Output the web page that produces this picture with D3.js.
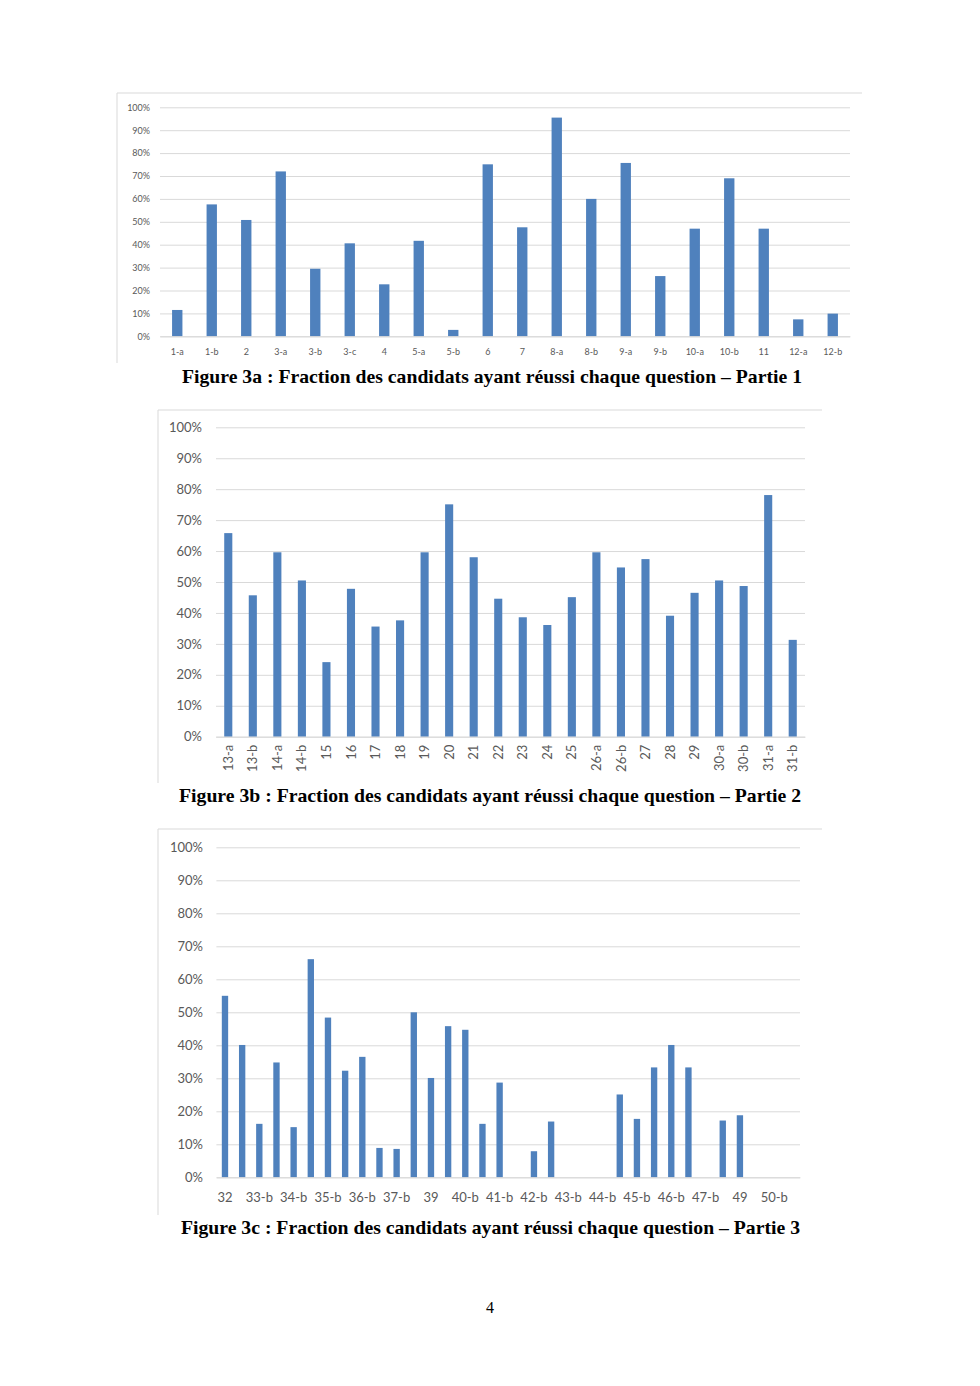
<!DOCTYPE html>
<html><head><meta charset="utf-8">
<script src="https://cdn.jsdelivr.net/npm/d3@7/dist/d3.min.js"></script>
<style>
html,body{margin:0;padding:0;background:#fff;}
svg{display:block;}
</style></head>
<body>
<svg id="page" width="980" height="1386"></svg>
<script>
// ---------- DATA ----------
const yTicks = [0, 0.1, 0.2, 0.3, 0.4, 0.5, 0.6, 0.7, 0.8, 0.9, 1.0];

const cats1 = ["1-a","1-b","2","3-a","3-b","3-c","4","5-a","5-b","6","7","8-a","8-b","9-a","9-b","10-a","10-b","11","12-a","12-b"];
const vals1 = [0.115,0.576,0.508,0.720,0.295,0.406,0.227,0.417,0.028,0.751,0.476,0.955,0.600,0.757,0.263,0.470,0.690,0.470,0.074,0.099];

const cats2 = ["13-a","13-b","14-a","14-b","15","16","17","18","19","20","21","22","23","24","25","26-a","26-b","27","28","29","30-a","30-b","31-a","31-b"];
const vals2 = [0.658,0.457,0.596,0.505,0.241,0.478,0.356,0.376,0.596,0.751,0.580,0.446,0.386,0.361,0.451,0.596,0.547,0.574,0.391,0.465,0.505,0.487,0.781,0.313];

const cats3 = ["32","33-a","33-b","34-a","34-b","35-a","35-b","36-a","36-b","37-a","37-b","38","39","40-a","40-b","41-a","41-b","42-a","42-b","43-a","43-b","44-a","44-b","45-a","45-b","46-a","46-b","47-a","47-b","48","49","50-a","50-b","51"];
const vals3 = [0.550,0.401,0.162,0.348,0.152,0.661,0.484,0.323,0.365,0.089,0.086,0.500,0.301,0.458,0.447,0.162,0.287,0,0.079,0.169,0,0,0,0.251,0.177,0.333,0.401,0.333,0,0.172,0.188,0,0,0];

const captions = [
  "Figure 3a : Fraction des candidats ayant réussi chaque question – Partie 1",
  "Figure 3b : Fraction des candidats ayant réussi chaque question – Partie 2",
  "Figure 3c : Fraction des candidats ayant réussi chaque question – Partie 3"
];
const pageNumber = "4";

// ---------- DRAW ----------
const svg = d3.select("#page");
const BAR = "#4f81bd", GRID = "#d9d9d9", TXT = "#595959", FRAME = "#d9d9d9";
const fmt = d3.format(".0%");

function drawChart(cfg) {
  const g = svg.append("g");
  g.append("line").attr("x1", cfg.frame[0]).attr("x2", cfg.frame[2]).attr("y1", cfg.frame[1]).attr("y2", cfg.frame[1])
    .attr("stroke", FRAME).attr("stroke-width", 1);
  g.append("line").attr("x1", cfg.frame[0]).attr("x2", cfg.frame[0]).attr("y1", cfg.frame[1]).attr("y2", cfg.frame[3])
    .attr("stroke", FRAME).attr("stroke-width", 1);

  const x = d3.scaleBand().domain(cfg.cats).range([cfg.x0, cfg.x1]).paddingInner(cfg.pad).paddingOuter(cfg.pad / 2);
  const y = d3.scaleLinear().domain([0, 1]).range([cfg.yb, cfg.yt]);

  const yAxis = d3.axisLeft(y).tickValues(yTicks).tickFormat(fmt)
    .tickSize(-(cfg.x1 - cfg.x0)).tickPadding(cfg.x0 - cfg.ylabX);
  const ga = g.append("g").attr("transform", `translate(${cfg.x0},0)`).call(yAxis);
  ga.select(".domain").remove();
  ga.selectAll(".tick line").attr("stroke", GRID).attr("stroke-width", 1);
  ga.selectAll(".tick text").attr("fill", TXT).style("font-family", cfg.font).style("font-size", cfg.yfs + "px");

  g.selectAll("rect.bar").data(cfg.cats.map((c, i) => ({c, v: cfg.vals[i]})).filter(d => d.v > 0))
    .enter().append("rect").attr("class", "bar")
    .attr("x", d => x(d.c)).attr("width", x.bandwidth())
    .attr("y", d => y(d.v)).attr("height", d => y(0) - y(d.v))
    .attr("fill", BAR);

  const xAxis = d3.axisBottom(x).tickSize(0).tickPadding(cfg.xpad)
    .tickFormat((d, i) => (cfg.every && i % cfg.every !== 0) ? "" : d);
  const gx = g.append("g").attr("transform", `translate(0,${cfg.yb})`).call(xAxis);
  gx.select(".domain").attr("stroke", GRID);
  gx.selectAll(".tick text").attr("fill", TXT).style("font-family", cfg.font).style("font-size", cfg.xfs + "px");
  if (cfg.rotate) {
    gx.selectAll(".tick text").attr("transform", "rotate(-90)")
      .attr("text-anchor", "end").attr("x", -cfg.xpad).attr("y", 0).attr("dy", "0.35em");
  }

  svg.append("text").attr("x", cfg.capX).attr("y", cfg.capY).attr("text-anchor", "middle")
    .style("font-family", "'Liberation Serif','Times New Roman',serif").style("font-weight", "bold")
    .style("font-size", "19px").attr("fill", "#000")
    .attr("textLength", cfg.capW).attr("lengthAdjust", "spacingAndGlyphs").text(cfg.caption);
}

drawChart({cats: cats1, vals: vals1, frame: [117, 93, 862, 363], x0: 160, x1: 850, yb: 336.3, yt: 107.3,
  pad: 0.7, ylabX: 150, yfs: 9, xfs: 9, xpad: 12, font: "Lato, 'Open Sans', sans-serif", caption: captions[0], capX: 492, capY: 383, capW: 620});
drawChart({cats: cats2, vals: vals2, frame: [158, 410, 822, 783], x0: 216, x1: 805, yb: 736.7, yt: 427.3,
  pad: 0.67, ylabX: 202, yfs: 13, xfs: 13, xpad: 8, rotate: true, font: "Lato, 'Open Sans', sans-serif", caption: captions[1], capX: 490, capY: 802, capW: 622});
drawChart({cats: cats3, vals: vals3, frame: [158, 829, 822, 1215], x0: 216.4, x1: 800, yb: 1177.3, yt: 847.3,
  pad: 0.63, ylabX: 203, yfs: 13, xfs: 13, xpad: 15, every: 2, font: "Lato, 'Open Sans', sans-serif", caption: captions[2], capX: 490.5, capY: 1234, capW: 619});

svg.append("text").attr("x", 490).attr("y", 1313).attr("text-anchor", "middle")
  .style("font-family", "'Liberation Serif','Times New Roman',serif").style("font-size", "16px").text(pageNumber);
</script>
</body></html>
